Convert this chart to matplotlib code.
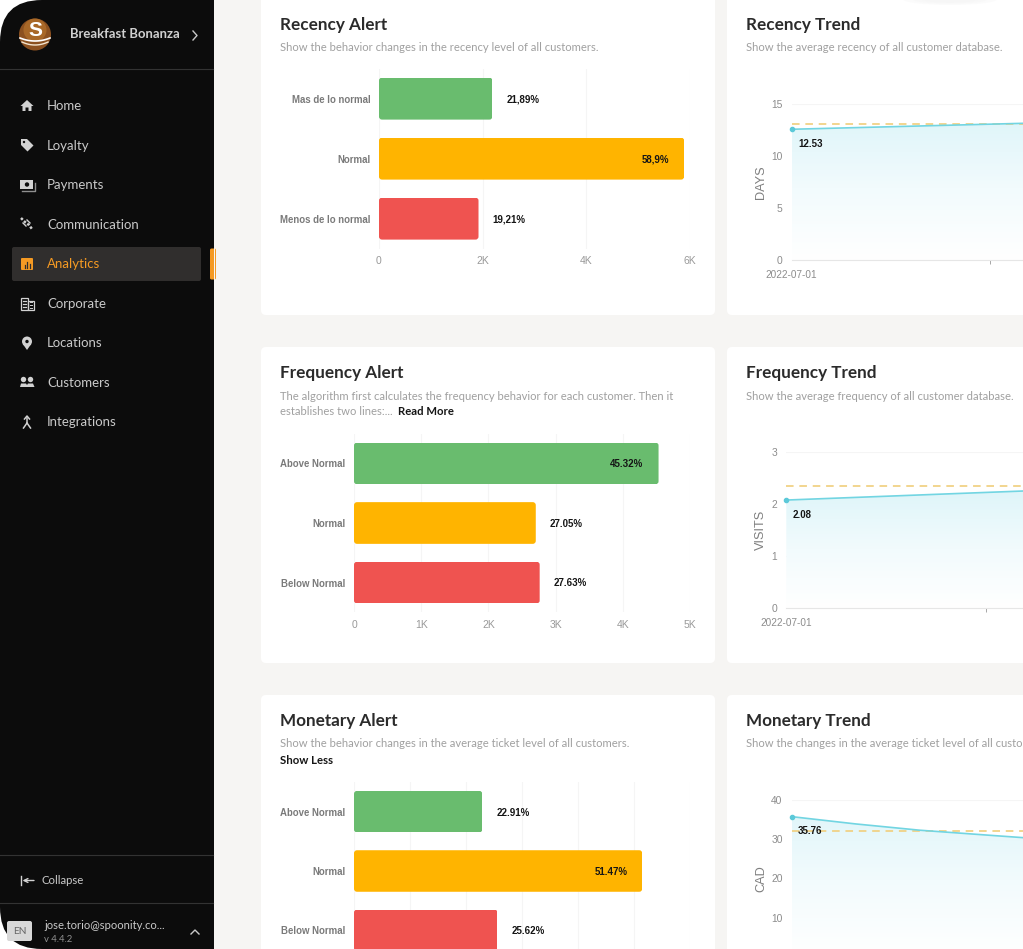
from matplotlib import pyplot as plt
from matplotlib.colors import LinearSegmentedColormap
from matplotlib.patches import Circle, Ellipse, FancyBboxPatch, Polygon, Rectangle
import matplotlib.dates as mdates
import numpy as np
import pandas as pd

W, H = 1023, 949

# ---- data ----
recency_cats = ["Mas de lo normal", "Normal", "Menos de lo normal"]
recency_vals = [2189, 5890, 1921]
recency_labels = ["21,89%", "58,9%", "19,21%"]
recency_ticks = [0, 2000, 4000, 6000]
recency_ticklabels = ["0", "2K", "4K", "6K"]

frequency_cats = ["Above Normal", "Normal", "Below Normal"]
frequency_vals = [4532, 2705, 2763]
frequency_labels = ["45.32%", "27.05%", "27.63%"]
frequency_ticks = [0, 1000, 2000, 3000, 4000, 5000]
frequency_ticklabels = ["0", "1K", "2K", "3K", "4K", "5K"]

monetary_cats = ["Above Normal", "Normal", "Below Normal"]
monetary_vals = [2291, 5147, 2562]
monetary_labels = ["22.91%", "51.47%", "25.62%"]
monetary_ticks = [0, 1000, 2000, 3000, 4000, 5000, 6000]

recency_dates = ["2022-07-01", "2022-08-01", "2022-09-01"]
recency_trend = [12.53, 13.02, 13.51]
recency_mean = 13.05

frequency_dates = ["2022-07-01", "2022-08-01", "2022-09-01"]
frequency_trend = [2.08, 2.227, 2.374]
frequency_mean = 2.36

monetary_dates = ["2022-07-01", "2022-07-11", "2022-07-21", "2022-08-01", "2022-09-01"]
monetary_trend = [35.76, 33.9, 32.3, 31.0, 27.4]
monetary_mean = 32.0

menu_items = ["Home", "Loyalty", "Payments", "Communication", "Analytics",
              "Corporate", "Locations", "Customers", "Integrations"]
menu_y = [105, 145, 184, 224, 263, 303, 342, 382, 421]

GREEN, AMBER, RED = "#69bc6e", "#ffb400", "#ef5350"
UI_FONT = "Lato"
CHART_FONT = "Liberation Sans"

fig = plt.figure(figsize=(W / 100, H / 100), dpi=100, facecolor="white")

# background layer in pixel coordinates
bg = fig.add_axes([0, 0, 1, 1])
bg.set_xlim(0, W)
bg.set_ylim(H, 0)
bg.axis("off")


def card(x0, y0, x1, y1):
    bg.add_patch(FancyBboxPatch((x0 + 5, y0 + 5), x1 - x0 - 10, y1 - y0 - 10,
                                boxstyle="round,pad=5,rounding_size=5", fc="white", ec="none"))


def ui_text(x, y, s, size=9.5, color="#c9c9c9", weight="normal", ha="left"):
    # Lato sits a little high next to the reference font
    bg.text(x, y + 0.8, s, fontsize=size, color=color, fontweight=weight, ha=ha, va="center",
            family=UI_FONT)


# sidebar and page
bg.add_patch(FancyBboxPatch((0, 0), 300, H, boxstyle="round,pad=0,rounding_size=42",
                            fc="#0c0c0c", ec="none"))
bg.add_patch(Rectangle((213.5, 0), W, H, fc="#f6f5f3", ec="none"))
for y in [69, 855, 903]:
    bg.plot([0, 213], [y, y], color="#333333", lw=0.8)

# cards
card(261, -40, 715, 315)
card(727, -40, W + 40, 315)
card(261, 347, 715, 663)
card(727, 347, W + 40, 663)
card(261, 695, 715, H + 40)
card(727, 695, W + 40, H + 40)

# faint shadow at the top
for i, a in zip([1.0, 0.8, 0.6], [0.25, 0.25, 0.25]):
    bg.add_patch(Ellipse((950, -1), 95 * i, 12 * i, fc="#f1f1f1", ec="none", alpha=a))

# logo
bg.add_patch(Circle((35, 34.5), 16, fc="#8c5120", ec="none"))
bg.add_patch(Circle((35, 30), 11.5, fc="#b5722c", ec="none", alpha=0.7))
bg.text(35, 30, "S", fontsize=15, fontweight="bold", color="white", ha="center", va="center",
        family=CHART_FONT)
t = np.linspace(-1, 1, 30)
bg.plot(35 + 15 * t, 38 + 3 * (1 - t ** 2), color="white", lw=1.2)
bg.plot(35 + 13 * t, 42 + 3 * (1 - t ** 2), color="#f3e4cf", lw=1)
ui_text(70, 33.5, "Breakfast Bonanza", size=9.45, color="#d0d0d0", weight="bold")
bg.plot([193, 197, 193], [31, 35.5, 40], color="#c9c9c9", lw=1)

# selected row
bg.add_patch(FancyBboxPatch((14, 249), 185, 30, boxstyle="round,pad=2,rounding_size=2",
                            fc="#302e2d", ec="none"))
bg.add_patch(FancyBboxPatch((211.5, 250), 3, 28, boxstyle="round,pad=1.5,rounding_size=1.5",
                            fc="#f59a23", ec="none"))
bg.add_patch(Rectangle((213.5, 240), 1, 45, fc="#f6f5f3", ec="none"))

# menu
for name, y in zip(menu_items, menu_y):
    ui_text(47, y, name, color="#f59a23" if name == "Analytics" else "#c9c9c9")

ic = "#d2d2d2"
# home
bg.add_patch(Polygon([(27, 100), (33.5, 106), (31.5, 106), (31.5, 111), (28.5, 111), (28.5, 107.5),
                      (25.5, 107.5), (25.5, 111), (22.5, 111), (22.5, 106), (20.5, 106)], fc=ic))
# loyalty tag
bg.add_patch(Polygon([(21, 139), (27, 139), (33.5, 145.5), (27.5, 151.5), (21, 145)], fc=ic))
bg.add_patch(Circle((24, 142), 1.2, fc="#0c0c0c"))
# payments
bg.add_patch(Rectangle((20, 180), 12.5, 9, fc=ic))
bg.add_patch(Circle((27, 184.5), 2.2, fc="#0c0c0c"))
bg.plot([22, 34.5, 34.5], [191, 191, 183], color="#8f8f8f", lw=1)
# communication
bg.plot([21, 25, 29, 32], [218, 222, 225, 229], color=ic, lw=1.8, ls=(0, (1, 0.7)))
bg.plot([27, 30], [220, 223], color=ic, lw=1)
bg.plot([23, 26], [223, 226], color=ic, lw=1)
# analytics
bg.add_patch(FancyBboxPatch((22, 259), 10, 10, boxstyle="round,pad=1,rounding_size=1",
                            fc="#f59a23", ec="none"))
for x, h_ in zip([24.5, 27, 29.5], [3, 6, 4]):
    bg.plot([x, x], [268, 268 - h_], color="#302e2d", lw=0.9)
# corporate
bg.add_patch(Rectangle((21, 298), 6.5, 11.5, fc="none", ec=ic, lw=0.9))
bg.add_patch(Rectangle((27.5, 301), 6.5, 8.5, fc="none", ec=ic, lw=0.9))
for yy in [301, 304, 307]:
    bg.plot([23, 25.5], [yy, yy], color=ic, lw=0.9)
    bg.plot([29.5, 32], [yy + 0.5, yy + 0.5], color=ic, lw=0.7)
# location
bg.add_patch(Circle((27, 341.5), 5, fc=ic))
bg.add_patch(Polygon([(22.8, 344), (31.2, 344), (27, 350)], fc=ic))
bg.add_patch(Circle((27, 341.5), 1.7, fc="#0c0c0c"))
# customers
bg.add_patch(Circle((23.5, 379.5), 2.7, fc=ic))
bg.add_patch(Circle((30.5, 379.5), 2.7, fc=ic))
bg.add_patch(Polygon([(20, 387), (21, 383.5), (26, 383.5), (27, 385), (28, 383.5), (33, 383.5),
                      (34.5, 387)], fc=ic))
# integrations
bg.plot([27, 27, 23.5], [418, 423, 428], color=ic, lw=1.1)
bg.plot([27, 30.5], [423, 428], color=ic, lw=1.1)
bg.plot([24.5, 27, 29.5], [419, 416, 419], color=ic, lw=1.1)

# collapse
bg.plot([20.5, 20.5], [876, 884.5], color=ic, lw=1)
bg.annotate("", xy=(22.5, 880.5), xytext=(34, 880.5),
            arrowprops=dict(arrowstyle="->", color=ic, lw=1, mutation_scale=7, shrinkA=0, shrinkB=0))
ui_text(41, 879.5, "Collapse", size=8.2)

# language / user
bg.add_patch(FancyBboxPatch((9, 923), 21, 16, boxstyle="round,pad=2,rounding_size=2",
                            fc="#d8d8d8", ec="none"))
ui_text(19.5, 930.5, "EN", size=7.3, color="#666666", ha="center")
ui_text(44, 924.5, "jose.torio@spoonity.co...", size=8.15)
ui_text(44, 938.5, "v 4.4.2", size=6.8, color="#909090")
bg.plot([191, 195, 199], [934, 930, 934], color="#c9c9c9", lw=1)

# card headings
for x, y, s in [(280, 24.5, "Recency Alert"), (746, 24.5, "Recency Trend"),
                (280, 372.5, "Frequency Alert"), (746, 372.5, "Frequency Trend"),
                (280, 720.5, "Monetary Alert"), (746, 720.5, "Monetary Trend")]:
    ui_text(x, y, s, size=12.3, color="#2b2b2b", weight="bold")
gray = "#a0a0a0"
for x, y, s in [(280, 47, "Show the behavior changes in the recency level of all customers."),
                (746, 47, "Show the average recency of all customer database."),
                (280, 395.5, "The algorithm first calculates the frequency behavior for each customer. Then it"),
                (280, 411, "establishes two lines:..."),
                (746, 395.5, "Show the average frequency of all customer database."),
                (280, 743, "Show the behavior changes in the average ticket level of all customers."),
                (746, 743, "Show the changes in the average ticket level of all custo")]:
    ui_text(x, y, s, size=8.12, color=gray)
ui_text(397.5, 411, "Read More", size=8.2, color="#151515", weight="bold")
ui_text(280, 759.5, "Show Less", size=8.2, color="#151515", weight="bold")


def px_axes(x0, y0, x1, y1):
    # y0 is the top edge and y1 the bottom edge, in image pixels
    ax = fig.add_axes([x0 / W, 1 - y1 / H, (x1 - x0) / W, (y1 - y0) / H])
    ax.patch.set_alpha(0)
    for s in ax.spines.values():
        s.set_visible(False)
    return ax


def alert_chart(box, xmax, cats, vals, labels, ticks, ticklabels):
    ax = px_axes(*box)
    ax.set_xlim(0, xmax)
    ax.set_ylim(-0.5, 2.5)
    ax.set_xticks(ticks)
    ax.set_xticklabels(ticklabels, fontsize=7.5, color="#999999", family=CHART_FONT)
    ax.set_yticks([2, 1, 0])
    ax.set_yticklabels(cats, fontsize=6.95, color="#7a7a7a", fontweight="bold", family=CHART_FONT)
    ax.tick_params(length=0, axis="x", pad=5.5)
    ax.tick_params(length=0, axis="y", pad=6)
    ax.set_axisbelow(True)
    ax.grid(axis="x", color="#f5f5f5", lw=0.8)
    sx = (box[2] - box[0]) / xmax
    sy = (box[3] - box[1]) / 3
    bars = ax.barh([2, 1, 0], vals, height=0.7, color=[GREEN, AMBER, RED], lw=0)
    for bar in bars:
        clip = FancyBboxPatch((bar.get_x(), bar.get_y()), bar.get_width(), bar.get_height(),
                              boxstyle=f"round,pad=0,rounding_size={3 / sx}",
                              mutation_aspect=sx / sy, transform=ax.transData)
        bar.set_clip_path(clip)
    biggest = max(vals)
    for y, v, lab in zip([2, 1, 0], vals, labels):
        inside = v == biggest
        ax.annotate(lab, (v, y), xytext=(-10.8 if inside else 10, -0.6),
                    textcoords="offset points", ha="right" if inside else "left", va="center",
                    fontsize=7, fontweight="bold", color="#151515", family=CHART_FONT,
                    annotation_clip=False)
    return ax


alert_chart((379, 68.6, 689.8, 248.6), 6000, recency_cats, recency_vals, recency_labels,
            recency_ticks, recency_ticklabels)
alert_chart((354, 433.6, 690, 612.4), 5000, frequency_cats, frequency_vals, frequency_labels,
            frequency_ticks, frequency_ticklabels)
mon_ax = alert_chart((354, 782, 690, 960), 6000, monetary_cats, monetary_vals, monetary_labels,
                     monetary_ticks, [])

fade = LinearSegmentedColormap.from_list("fade", ["#ffffff", "#f2fbfd", "#def5f9"])


def trend_chart(box, dates, vals, mean, ymax, yticks, ylabel, label, label_off, show_bottom=True):
    ax = px_axes(*box)
    x = mdates.date2num(pd.to_datetime(dates))
    xlim = mdates.date2num(pd.to_datetime(["2022-07-01", "2022-09-01"]))
    grad = np.linspace(1, 0, 256).reshape(-1, 1)
    poly = ax.fill_between(x, vals, 0, color="none")
    im = ax.imshow(grad, aspect="auto", cmap=fade, extent=[xlim[0], xlim[1], 0, vals[0] * 1.1],
                   zorder=1)
    im.set_clip_path(poly.get_paths()[0], transform=ax.transData)
    ax.set_xlim(xlim)
    ax.set_ylim(0, ymax)
    ax.set_yticks(yticks)
    ax.set_yticklabels([str(v) for v in yticks], fontsize=7.4, color="#8c8c8c", family=CHART_FONT)
    ax.tick_params(axis="y", length=0, pad=6.5)
    ax.grid(axis="y", color="#f5f5f5", lw=0.8, zorder=0)
    ax.set_axisbelow(True)
    ax.spines["bottom"].set_visible(show_bottom)
    ax.spines["bottom"].set_color("#e6e6e6")
    if show_bottom:
        tick_pos = mdates.date2num(pd.to_datetime(["2022-07-01", "2022-08-01"]))
        ax.set_xticks(tick_pos)
        ax.set_xticklabels(["2022-07-01", ""], fontsize=7.2, color="#8c8c8c", family=CHART_FONT)
        ax.tick_params(axis="x", length=3, color="#999999", width=0.6, pad=4.5)
        ax.get_xticklines()[0].set_visible(False)
    else:
        ax.set_xticks([])
    ax.axhline(mean, color="#f1d286", lw=1.3, ls=(0, (4.2, 3.2)), zorder=3)
    ax.plot(x, vals, color="#72d5e2", lw=1.2, zorder=4)
    ax.plot(x[:1], vals[:1], "o", color="#5cc9d9", ms=3, clip_on=False, zorder=5)
    ax.set_ylabel(ylabel, fontsize=9.2, color="#7f7f7f", family=CHART_FONT)
    ax.yaxis.set_label_coords((767 - box[0]) / (box[2] - box[0]), 0.5)
    ax.annotate(label, (x[0], vals[0]), xytext=label_off, textcoords="offset points",
                fontsize=7, fontweight="bold", color="#151515", family=CHART_FONT, va="center",
                zorder=6)
    return ax


trend_chart((791.7, 103.5, 1189, 260), recency_dates, recency_trend, recency_mean, 15,
            [0, 5, 10, 15], "DAYS", "12.53", (4.5, -10.5))
trend_chart((786.3, 452.3, 1186, 608), frequency_dates, frequency_trend, frequency_mean, 3,
            [0, 1, 2, 3], "VISITS", "2.08", (4.5, -10.5))
trend_chart((791.7, 800, 1189, 957), monetary_dates, monetary_trend, monetary_mean, 40,
            [10, 20, 30, 40], "CAD", "35.76", (4.5, -10), show_bottom=False)

fig.savefig("out.png", dpi=100, facecolor=fig.get_facecolor())
